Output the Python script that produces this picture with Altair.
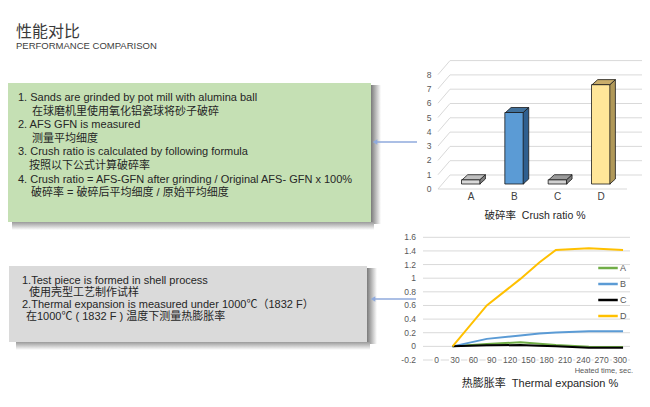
import altair as alt
import pandas as pd

# ---------------- data ----------------
title_cn = "性能对比"
title_en = "PERFORMANCE COMPARISON"

crush_notes = [
    "1. Sands are grinded by pot mill with alumina ball",
    "在球磨机里使用氧化铝瓷球将砂子破碎",
    "2. AFS GFN is measured",
    "测量平均细度",
    "3. Crush ratio is calculated by following formula",
    "按照以下公式计算破碎率",
    "4. Crush ratio = AFS-GFN after grinding / Original AFS- GFN x 100%",
    "破碎率 = 破碎后平均细度 / 原始平均细度",
]
thermal_notes = [
    "1.Test piece is formed in shell process",
    "使用壳型工艺制作试样",
    "2.Thermal expansion is measured under 1000℃（1832 F）",
    "在1000℃ ( 1832 F ) 温度下测量热膨胀率",
]

bar_cats = ["A", "B", "C", "D"]
crush_ratio = [0.3, 5.0, 0.3, 6.95]
bar_ticks = [0, 1, 2, 3, 4, 5, 6, 7, 8]
bar_title = "破碎率\u00a0\u00a0Crush ratio %"

heat_time = [26, 82, 137, 168, 195, 249, 305]
series_names = ["A", "B", "C", "D"]
exp_A = [0.0, 0.035, 0.06, 0.04, 0.02, -0.005, -0.01]
exp_B = [0.0, 0.11, 0.16, 0.19, 0.205, 0.22, 0.22]
exp_C = [0.0, 0.015, 0.02, 0.01, 0.0, -0.02, -0.02]
exp_D = [0.0, 0.6, 0.99, 1.23, 1.415, 1.44, 1.415]
line_y_ticks = [-0.2, 0, 0.2, 0.4, 0.6, 0.8, 1.0, 1.2, 1.4, 1.6]
line_y_labels = ["-0.2", "0", "0.2", "0.4", "0.6", "0.8", "1", "1.2", "1.4", "1.6"]
line_x_ticks = [0, 30, 60, 90, 120, 150, 180, 210, 240, 270, 300]
line_x_title = "Heated time, sec."
line_title = "热膨胀率\u00a0\u00a0Thermal expansion %"

# ---------------- styles ----------------
FONT = "Liberation Sans, Arial, Noto Sans CJK SC, sans-serif"
CJK = "Noto Sans CJK SC, sans-serif"
TXT = "#262626"
AX = "#595959"
GRID = "#d9d9d9"
ARROW = "#8faadc"
FRONT = ["#d9d9d9", "#5b9bd5", "#d0d0d0", "#ffe699"]
SIDE = ["#7f7f7f", "#2f5f8f", "#7f7f7f", "#b09858"]
TOP = ["#bfbfbf", "#41719c", "#9a9a9a", "#c9ad6a"]
LINE_COLORS = ["#70ad47", "#5b9bd5", "#000000", "#ffc000"]
EDGE = "#1a1a1a"

dummy = pd.DataFrame({"_": [0]})


def text(s, x, y, size=11, color=TXT, align="left", font=FONT, baseline="middle"):
    return alt.Chart(dummy).mark_text(
        text=s, fontSize=size, color=color, align=align, baseline=baseline, font=font
    ).encode(x=alt.value(x), y=alt.value(y))


def rect(x1, x2, y1, y2, fill):
    return alt.Chart(dummy).mark_rect(color=fill).encode(
        x=alt.value(x1), x2=alt.value(x2), y=alt.value(y1), y2=alt.value(y2)
    )


def grad(horizontal, c0, c1="#ffffff"):
    return alt.Gradient(
        gradient="linear",
        stops=[alt.GradientStop(color=c0, offset=0), alt.GradientStop(color=c1, offset=1)],
        x1=0, y1=0, x2=1 if horizontal else 0, y2=0 if horizontal else 1,
    )


def arrow(x_from, x_to, y):
    r = alt.Chart(dummy).mark_rule(color=ARROW, strokeWidth=1.3).encode(
        x=alt.value(x_from), x2=alt.value(x_to + 4), y=alt.value(y)
    )
    h = alt.Chart(dummy).mark_point(shape="triangle-left", filled=True, size=28,
                                    color=ARROW, opacity=1).encode(
        x=alt.value(x_to + 3), y=alt.value(y)
    )
    return [r, h]


layers = []
# titles
layers.append(text(title_cn, 8, 24, size=16, color="#3a3a3a", font=CJK))
layers.append(text(title_en, 8, 38, size=9.5, color="#404040"))

# green panel with shadow
layers.append(rect(363, 373, 77, 216, grad(True, "#7a7a7a")))
layers.append(rect(4, 366, 214, 222, grad(False, "#9a9a9a")))
layers.append(rect(-3, 363, 75, 214, "#c5e0b4"))
g_x = [10, 24, 10, 24, 10, 21, 10, 23]
for i, s in enumerate(crush_notes):
    layers.append(text(s, g_x[i], 90 + i * 13.6, size=11))

# grey panel with shadow
layers.append(rect(359, 369, 260, 336, grad(True, "#7a7a7a")))
layers.append(rect(8, 362, 334, 342, grad(False, "#9a9a9a")))
layers.append(rect(1, 359, 258, 334, "#dadada"))
t_x = [14, 21, 14, 18]
for i, s in enumerate(thermal_notes):
    layers.append(text(s, t_x[i], 273 + i * 12, size=11))

layers += arrow(409, 364, 134)
layers += arrow(408, 362, 291)

# ---------------- bar chart (3D look) ----------------
PX_X = (598 - 458) / 3.0
PX_Y = 14.3
HW = 9.5 / PX_X
DX = 6 / PX_X
DY = 5 / PX_Y

xs_bar = alt.Scale(domain=[0, 3], range=[458, 598], nice=False, zero=False)
ys_bar = alt.Scale(domain=[0, 8], range=[176, 176 - 8 * PX_Y], nice=False)

bar_df = pd.DataFrame({"cat": bar_cats, "i": list(range(len(bar_cats))), "v": crush_ratio})
side_rows, top_rows = [], []
for i, (c, v) in enumerate(zip(bar_cats, crush_ratio)):
    side_rows.append(dict(cat=c, x=i + HW, lo=0.0, hi=v))
    side_rows.append(dict(cat=c, x=i + HW + DX, lo=DY, hi=v + DY))
    top_rows.append(dict(cat=c, y=v, xl=i - HW, xr=i + HW))
    top_rows.append(dict(cat=c, y=v + DY, xl=i - HW + DX, xr=i + HW + DX))
side_df = pd.DataFrame(side_rows)
top_df = pd.DataFrame(top_rows)
grid_df = pd.DataFrame({"v": bar_ticks})

b_diag = alt.Chart(grid_df).mark_rule(color=GRID, yOffset=5, y2Offset=-9).encode(
    x=alt.value(430), x2=alt.value(442),
    y=alt.Y("v:Q", scale=ys_bar, axis=None), y2="v:Q")
b_back = alt.Chart(grid_df).mark_rule(color=GRID, yOffset=-9).encode(
    x=alt.value(442), x2=alt.value(634), y=alt.Y("v:Q", scale=ys_bar, axis=None))
b_floor = alt.Chart(dummy).mark_rule(color=GRID, yOffset=5).encode(
    x=alt.value(430), x2=alt.value(619), y=alt.Y(datum=0, scale=ys_bar, axis=None))
b_ylab = alt.Chart(grid_df).mark_text(yOffset=5, fontSize=8.5, color=AX, font=FONT).encode(
    x=alt.value(421), y=alt.Y("v:Q", scale=ys_bar, axis=None), text="v:Q")
b_front = alt.Chart(bar_df).mark_bar(width=19, stroke=EDGE, strokeWidth=0.8).encode(
    x=alt.X("i:Q", scale=xs_bar, axis=None),
    y=alt.Y("v:Q", scale=ys_bar, axis=None, stack=None),
    color=alt.Color("cat:N", scale=alt.Scale(domain=bar_cats, range=FRONT), legend=None))
b_side = alt.Chart(side_df).mark_area(orient="vertical", stroke=EDGE, strokeWidth=0.8,
                                      opacity=1).encode(
    x=alt.X("x:Q", scale=xs_bar, axis=None),
    y=alt.Y("hi:Q", scale=ys_bar, axis=None, stack=None), y2="lo:Q",
    detail="cat:N",
    color=alt.Color("cat:N", scale=alt.Scale(domain=bar_cats, range=SIDE), legend=None))
b_top = alt.Chart(top_df).mark_area(orient="horizontal", stroke=EDGE, strokeWidth=0.8,
                                    opacity=1).encode(
    y=alt.Y("y:Q", scale=ys_bar, axis=None),
    x=alt.X("xl:Q", scale=xs_bar, axis=None, stack=None), x2="xr:Q",
    detail="cat:N",
    color=alt.Color("cat:N", scale=alt.Scale(domain=bar_cats, range=TOP), legend=None))
b_xlab = alt.Chart(bar_df).mark_text(fontSize=10, color="#404040", font=FONT).encode(
    x=alt.X("i:Q", scale=xs_bar, axis=None), y=alt.value(189), text="cat:N")
b_title = text(bar_title, 527, 208, size=10.5, align="center")

bar_chart = alt.layer(b_diag, b_back, b_floor, b_ylab, b_front, b_side, b_top, b_xlab,
                      b_title).resolve_scale(color="independent")

# ---------------- line chart ----------------
xs_line = alt.Scale(domain=[0, 300], range=[423.7, 617], nice=False, zero=False)
ys_line = alt.Scale(domain=[-0.2, 1.6], range=[352, 229.3], nice=False, zero=False)

line_df = pd.DataFrame({
    "t": heat_time * 4,
    "val": exp_A + exp_B + exp_C + exp_D,
    "s": sum([[n] * len(heat_time) for n in series_names], []),
})
ytick_df = pd.DataFrame({"v": line_y_ticks, "lab": line_y_labels})
xtick_df = pd.DataFrame({"t": line_x_ticks})

l_grid = alt.Chart(ytick_df).mark_rule(color=GRID).encode(
    x=alt.value(415), x2=alt.value(622), y=alt.Y("v:Q", scale=ys_line, axis=None))
l_ylab = alt.Chart(ytick_df).mark_text(align="right", fontSize=8.5, color=AX, font=FONT).encode(
    x=alt.value(408), y=alt.Y("v:Q", scale=ys_line, axis=None), text="lab:N")
masks = []
for lo, hi, w in [(-1, 10, 8), (10, 100, 12), (100, 1000, 16)]:
    masks.append(alt.Chart(xtick_df).transform_filter(
        (alt.datum.t >= lo) & (alt.datum.t < hi)).mark_bar(width=w, color="white").encode(
        x=alt.X("t:Q", scale=xs_line, axis=None),
        y=alt.Y(datum=-0.215, scale=ys_line, axis=None), y2=alt.Y2(datum=-0.185)))
l_xlab = alt.Chart(xtick_df).mark_text(fontSize=8.5, color=AX, font=FONT).encode(
    x=alt.X("t:Q", scale=xs_line, axis=None),
    y=alt.Y(datum=-0.2, scale=ys_line, axis=None), text="t:Q")
l_lines = alt.Chart(line_df).mark_line(strokeWidth=2).encode(
    x=alt.X("t:Q", scale=xs_line, axis=None),
    y=alt.Y("val:Q", scale=ys_line, axis=None),
    color=alt.Color("s:N", scale=alt.Scale(domain=series_names, range=LINE_COLORS),
                    legend=alt.Legend(orient="none", legendX=589, legendY=249, title=None,
                                      symbolType="stroke", symbolStrokeWidth=2.5,
                                      symbolSize=380, labelFontSize=9, labelColor=AX,
                                      labelFont=FONT, rowPadding=-2, labelOffset=1)))
l_xtitle = text(line_x_title, 625, 363, size=7.5, color=AX, align="right")
l_title = text(line_title, 532, 376, size=11, align="center")

line_chart = alt.layer(l_grid, *masks, l_xlab, l_ylab, l_lines, l_xtitle, l_title)

chart = alt.layer(*layers, bar_chart, line_chart).resolve_scale(
    x="independent", y="independent", color="independent"
).properties(
    width=634, height=391, padding=0, autosize="none", background="white"
).configure_view(stroke=None)

chart.save("out.html", embed_options={"renderer": "svg", "actions": False})
